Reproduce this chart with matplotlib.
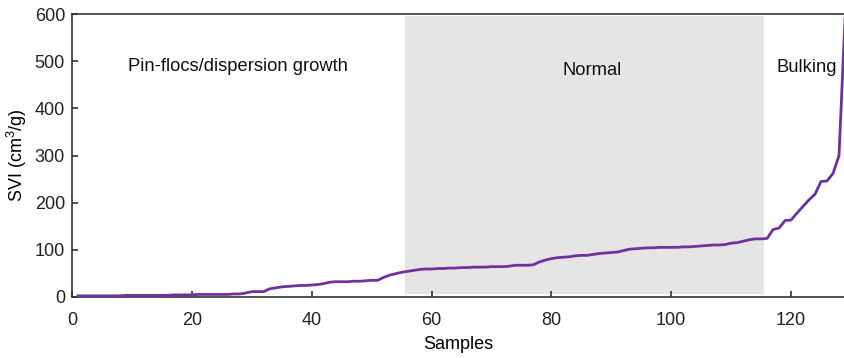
import numpy as np
import matplotlib
matplotlib.use("Agg")
import matplotlib.pyplot as plt

plt.rcParams['font.family'] = ['Liberation Sans', 'DejaVu Sans']
plt.rcParams['mathtext.fontset'] = 'custom'
plt.rcParams['mathtext.rm'] = 'Liberation Sans'

# sorted SVI values, one per sample
svi = [2, 2, 2, 2, 2, 2, 2, 2, 3, 3,
       3, 3, 3, 3, 3, 3, 4, 4, 4, 4,
       5, 5, 5, 5, 5, 5, 6, 6, 8, 11,
       11, 11, 17, 19, 21, 22, 23, 24, 24, 25,
       26, 28, 31, 32, 32, 32, 33, 33, 34, 35,
       35, 41, 46, 49, 52, 54, 56, 58, 59, 59,
       60, 60, 61, 61, 62, 62, 63, 63, 63, 64,
       64, 64, 65, 67, 67, 67, 68, 74, 78, 81,
       83, 84, 85, 87, 88, 88, 90, 92, 93, 94,
       95, 98, 101, 102, 103, 104, 104, 105, 105, 105,
       105, 106, 106, 107, 108, 109, 110, 110, 111, 114,
       115, 118, 121, 123, 123, 124, 143, 146, 162, 163,
       178, 192, 206, 218, 245, 246, 262, 300, 590]
samples = np.arange(1, len(svi) + 1)

regions = ["Pin-flocs/dispersion growth", "Normal", "Bulking"]
region_x = [27.7, 86.8, 122.7]
region_y = [489, 481, 487]
normal_span = (55.5, 115.5)

fig = plt.figure(figsize=(8.45, 3.58), dpi=100)
ax = fig.add_axes([0.0852, 0.171, 0.9148, 0.789])

# shaded band for the normal range
ax.axvspan(normal_span[0], normal_span[1], ymin=0.01, ymax=0.993,
           color='#e5e5e5', lw=0, zorder=0)
ax.plot(samples, svi, color='#7030a0', lw=2.0, zorder=3)

for label, tx, ty in zip(regions, region_x, region_y):
    ax.text(tx, ty, label, ha='center', va='center', fontsize=13.2, color='#111111')

ax.set_xlim(0, 129)
ax.set_ylim(0, 600)
ax.set_xticks([0, 20, 40, 60, 80, 100, 120])
ax.set_yticks([0, 100, 200, 300, 400, 500, 600])
ax.tick_params(direction='in', length=4, width=1.1, labelsize=13,
               colors='#222222')
ax.tick_params(axis='x', pad=11)
ax.tick_params(axis='y', pad=5)
ax.spines['right'].set_visible(False)
for s in ['left', 'bottom', 'top']:
    ax.spines[s].set_linewidth(1.2)
    ax.spines[s].set_color('#333333')

ax.set_xlabel('Samples', fontsize=13, labelpad=5)
ax.set_ylabel('SVI (cm$^3$/g)', fontsize=13, labelpad=4)

fig.savefig('out.png', dpi=100)
